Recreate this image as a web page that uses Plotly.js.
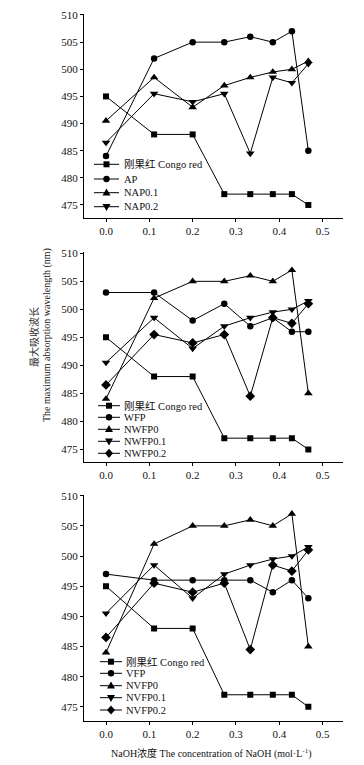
<!DOCTYPE html>
<html>
<head>
<meta charset="utf-8">
<script src="https://cdn.plot.ly/plotly-3.0.1.min.js"></script>
<style>html,body{margin:0;padding:0;background:#fff;}#chart{width:364px;height:765px;}</style>
</head>
<body>
<div id="chart"></div>
<script>
// ---- data ----
const xConc = [0, 0.111, 0.2, 0.273, 0.333, 0.385, 0.429, 0.467];
const congoRed = [495, 488, 488, 477, 477, 477, 477, 475];
// panel 1
const apVals  = [484, 502, 505, 505, 506, 505, 507, 485];
const nap01   = [490.5, 498.5, 493, 497, 498.5, 499.5, 500, 501.5];
const nap02   = [486.5, 495.5, 494, 495.5, 484.5, 498.5, 497.5, 501];
// panel 2
const wfpVals = [503, 503, 498, 501, 497, 498.5, 496, 496];
const nwfp0   = [484, 502, 505, 505, 506, 505, 507, 485];
const nwfp01  = [490.5, 498.5, 493, 497, 498.5, 499.5, 500, 501.5];
const nwfp02  = [486.5, 495.5, 494, 495.5, 484.5, 498.5, 497.5, 501];
// panel 3
const vfpVals = [497, 496, 496, 496, 496, 494, 496, 493];
const nvfp0   = [484, 502, 505, 505, 506, 505, 507, 485];
const nvfp01  = [490.5, 498.5, 493, 497, 498.5, 499.5, 500, 501.5];
const nvfp02  = [486.5, 495.5, 494, 495.5, 484.5, 498.5, 497.5, 501];

const names1 = ['刚果红 Congo red', 'AP', 'NAP0.1', 'NAP0.2'];
const names2 = ['刚果红 Congo red', 'WFP', 'NWFP0', 'NWFP0.1', 'NWFP0.2'];
const names3 = ['刚果红 Congo red', 'VFP', 'NVFP0', 'NVFP0.1', 'NVFP0.2'];
const series1 = [congoRed, apVals, nap01, nap02];
const series2 = [congoRed, wfpVals, nwfp0, nwfp01, nwfp02];
const series3 = [congoRed, vfpVals, nvfp0, nvfp01, nvfp02];
const symbols1 = ['square', 'circle', 'triangle-up', 'triangle-down'];
const symbols2 = ['square', 'circle', 'triangle-up', 'triangle-down', 'diamond'];
const symbols3 = symbols2;
const xTicks = [0, 0.1, 0.2, 0.3, 0.4, 0.5];
const yTicks = [475, 480, 485, 490, 495, 500, 505, 510];

// ---- layout helpers (pixel geometry of the 364x765 page) ----
const W = 364, H = 765;
const px = v => v / W;
const py = v => 1 - v / H;
const FONT = 'Liberation Serif, Times New Roman, Noto Sans CJK SC, serif';
const markerSize = {'square': 6, 'circle': 6.5, 'triangle-up': 7.5, 'triangle-down': 7.5, 'diamond': 7.5};

const panels = [
  {names: names1, series: series1, symbols: symbols1, xa: 'x', ya: 'y',
   leg: {x0: 94, x1: 119, tx: 122, ys: [164.3, 179, 192.7, 206.7]}},
  {names: names2, series: series2, symbols: symbols2, xa: 'x2', ya: 'y2',
   leg: {x0: 98, x1: 120, tx: 122, ys: [405.7, 417.3, 429.3, 441.3, 453.3]}},
  {names: names3, series: series3, symbols: symbols3, xa: 'x3', ya: 'y3',
   leg: {x0: 100, x1: 122, tx: 124, ys: [661.7, 673.3, 685.7, 697.7, 710]}}
];

const traces = [];
const shapes = [];
const annotations = [];

const legendPaths = {
  'square': 'M-3,-3H3V3H-3Z',
  'triangle-up': 'M-4,-2.8L4,-2.8L0,4.2Z',
  'triangle-down': 'M-4,2.8L4,2.8L0,-4.2Z',
  'diamond': 'M0,4.6L4,0L0,-4.6L-4,0Z'
};

panels.forEach(p => {
  p.series.forEach((s, i) => {
    traces.push({
      x: xConc, y: s, name: p.names[i], xaxis: p.xa, yaxis: p.ya,
      type: 'scatter', mode: 'lines+markers', showlegend: false,
      line: {color: '#000', width: 1},
      marker: {symbol: p.symbols[i], size: markerSize[p.symbols[i]], color: '#000'}
    });
    // manual compact legend entry
    const yy = py(p.leg.ys[i]);
    shapes.push({type: 'line', xref: 'paper', yref: 'paper',
      x0: px(p.leg.x0), x1: px(p.leg.x1), y0: yy, y1: yy,
      line: {color: '#000', width: 1}});
    const cx = px((p.leg.x0 + p.leg.x1) / 2);
    const sym = p.symbols[i];
    if (sym === 'circle') {
      shapes.push({type: 'circle', xref: 'paper', yref: 'paper',
        xsizemode: 'pixel', ysizemode: 'pixel', xanchor: cx, yanchor: yy,
        x0: -3.2, x1: 3.2, y0: -3.2, y1: 3.2,
        fillcolor: '#000', line: {color: '#000', width: 0}});
    } else {
      shapes.push({type: 'path', xref: 'paper', yref: 'paper',
        xsizemode: 'pixel', ysizemode: 'pixel', xanchor: cx, yanchor: yy,
        path: legendPaths[sym], fillcolor: '#000', line: {color: '#000', width: 0}});
    }
    annotations.push({xref: 'paper', yref: 'paper', x: px(p.leg.tx), y: yy,
      xanchor: 'left', yanchor: 'middle', showarrow: false, text: p.names[i],
      font: {family: FONT, size: 10.5, color: '#111'}});
  });
});

// axis titles
annotations.push({xref: 'paper', yref: 'paper', x: px(33), y: py(337),
  xanchor: 'center', yanchor: 'middle',
  textangle: -90, showarrow: false, text: '最大吸收波长',
  font: {family: 'Noto Sans CJK SC, sans-serif', size: 10, color: '#333'}});
annotations.push({xref: 'paper', yref: 'paper', x: px(47), y: py(335),
  xanchor: 'center', yanchor: 'middle',
  textangle: -90, showarrow: false, text: 'The maximum absorption wavelength (nm)',
  font: {family: FONT, size: 10, color: '#111'}});
annotations.push({xref: 'paper', yref: 'paper', x: px(211), y: py(753),
  xanchor: 'center', yanchor: 'middle',
  showarrow: false, text: 'NaOH浓度 The concentration of NaOH (mol·L<sup>-1</sup>)',
  font: {family: FONT, size: 10, color: '#111'}});

const xAxisBase = () => ({
  domain: [px(84), px(343)], range: [-0.0508, 0.547],
  tickvals: xTicks, tickformat: '.1f',
  showline: true, linecolor: '#000', linewidth: 1, mirror: false,
  ticks: 'outside', ticklen: 3, tickwidth: 1, tickcolor: '#000',
  showgrid: false, zeroline: false,
  tickfont: {family: FONT, size: 11, color: '#111'}, automargin: false
});
const yAxisBase = (range, dom) => ({
  domain: dom, range: range, tickvals: yTicks,
  showline: true, linecolor: '#000', linewidth: 1, mirror: false,
  ticks: 'outside', ticklen: 3, tickwidth: 1, tickcolor: '#000',
  showgrid: false, zeroline: false,
  tickfont: {family: FONT, size: 11, color: '#111'}, automargin: false
});

const layout = {
  width: W, height: H,
  margin: {l: 0, r: 0, t: 0, b: 0},
  paper_bgcolor: '#fff', plot_bgcolor: '#fff',
  showlegend: false,
  xaxis: Object.assign(xAxisBase(), {anchor: 'y'}),
  xaxis2: Object.assign(xAxisBase(), {anchor: 'y2'}),
  xaxis3: Object.assign(xAxisBase(), {anchor: 'y3'}),
  yaxis: Object.assign(yAxisBase([472.6, 510.2], [py(218), py(13.9)]), {anchor: 'x'}),
  yaxis2: Object.assign(yAxisBase([472.8, 510.2], [py(461.7), py(252.2)]), {anchor: 'x2'}),
  yaxis3: Object.assign(yAxisBase([472.7, 510.2], [py(720.7), py(494.5)]), {anchor: 'x3'}),
  shapes: shapes,
  annotations: annotations
};

Plotly.newPlot('chart', traces, layout, {displayModeBar: false, staticPlot: true});
</script>
</body>
</html>
